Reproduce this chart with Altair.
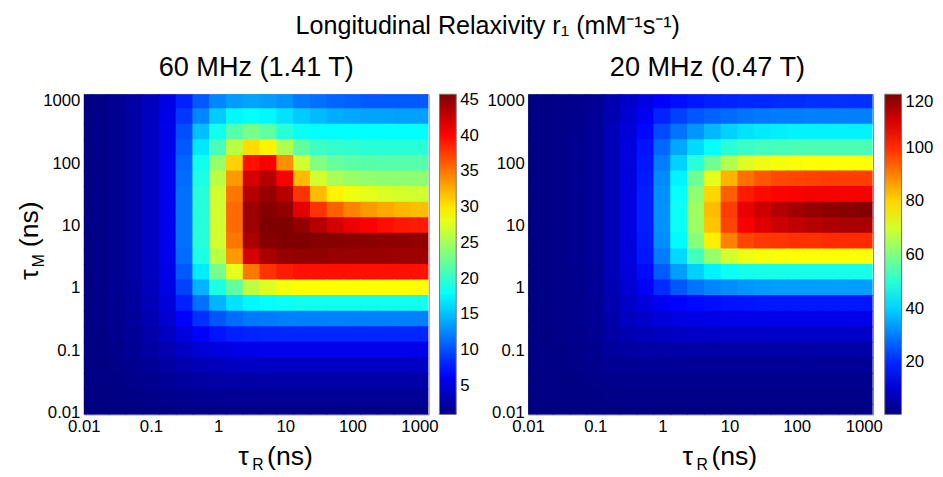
import altair as alt
import pandas as pd

FONT = "Liberation Sans"

# log10 grid centres (tau in ns)
LOG_TAU_R = [-2.0, -1.75, -1.5, -1.25, -1.0, -0.75, -0.5, -0.25, 0.0, 0.25, 0.5,
             0.75, 1.0, 1.25, 1.5, 1.75, 2.0, 2.25, 2.5, 2.75, 3.0]
LOG_TAU_M = [3.0, 2.75, 2.5, 2.25, 2.0, 1.75, 1.5, 1.25, 1.0, 0.75, 0.5,
             0.25, 0.0, -0.25, -0.5, -0.75, -1.0, -1.25, -1.5, -1.75, -2.0]

# r1 (rows = tau_M from top, cols = tau_R)
R1_60MHZ = [
    [1.2, 1.4, 1.8, 2.6, 3.7, 5.4, 8.0, 10.5, 12.5, 13.5, 13.8, 13.5, 13.0, 12.0, 11.5, 11.0, 10.8, 10.5, 10.5, 10.5, 10.5],
    [1.2, 1.4, 1.8, 2.6, 3.8, 5.6, 9.0, 12.5, 15.5, 17.5, 18.0, 17.5, 16.5, 15.5, 14.8, 14.2, 14.0, 13.8, 13.8, 13.6, 13.6],
    [1.2, 1.4, 1.8, 2.6, 3.8, 5.7, 10.0, 15.0, 18.5, 21.5, 23.0, 22.0, 19.5, 18.2, 17.8, 17.8, 17.8, 17.8, 17.8, 17.8, 17.8],
    [1.2, 1.4, 1.8, 2.6, 3.8, 5.7, 10.5, 16.8, 21.0, 26.0, 30.5, 29.5, 25.5, 22.0, 20.5, 20.0, 19.8, 19.6, 19.5, 19.5, 19.5],
    [1.2, 1.4, 1.8, 2.6, 3.8, 5.8, 11.0, 18.5, 24.5, 31.0, 39.5, 40.5, 34.0, 27.0, 23.5, 22.3, 21.8, 21.6, 21.5, 21.5, 21.5],
    [1.2, 1.4, 1.8, 2.6, 3.8, 5.8, 11.3, 19.0, 26.0, 33.5, 42.0, 43.5, 40.5, 32.0, 27.0, 25.2, 24.5, 24.2, 24.0, 24.0, 24.0],
    [1.2, 1.4, 1.8, 2.6, 3.8, 5.8, 11.5, 19.5, 27.0, 35.0, 43.5, 44.8, 43.5, 38.0, 32.0, 29.5, 28.3, 27.8, 27.4, 27.2, 27.0],
    [1.2, 1.4, 1.8, 2.6, 3.8, 5.8, 11.5, 19.5, 27.0, 35.5, 44.5, 45.5, 45.0, 41.5, 38.0, 36.0, 34.5, 33.5, 32.8, 32.2, 31.8],
    [1.2, 1.4, 1.8, 2.6, 3.8, 5.8, 11.5, 19.5, 27.0, 35.5, 44.5, 45.8, 45.8, 45.0, 43.5, 42.0, 41.0, 40.2, 39.6, 39.2, 39.0],
    [1.2, 1.4, 1.8, 2.6, 3.8, 5.8, 11.5, 19.5, 27.0, 35.0, 44.0, 45.5, 45.8, 45.8, 45.6, 45.5, 45.4, 45.3, 45.2, 45.1, 45.0],
    [1.2, 1.4, 1.8, 2.6, 3.8, 5.8, 11.3, 19.0, 26.0, 33.5, 42.0, 44.0, 44.8, 45.0, 45.0, 44.8, 44.7, 44.6, 44.6, 44.5, 44.5],
    [1.2, 1.4, 1.8, 2.6, 3.8, 5.6, 10.5, 17.0, 23.0, 28.0, 35.0, 38.0, 39.0, 39.5, 39.5, 39.5, 39.5, 39.5, 39.5, 39.5, 39.5],
    [1.2, 1.4, 1.8, 2.5, 3.7, 5.4, 9.5, 14.5, 19.0, 22.0, 26.0, 27.5, 28.5, 29.0, 29.0, 29.0, 29.0, 29.0, 29.0, 29.0, 29.0],
    [1.2, 1.4, 1.7, 2.4, 3.5, 5.0, 8.0, 11.5, 14.5, 16.5, 17.5, 18.0, 18.3, 18.5, 18.5, 18.5, 18.5, 18.5, 18.5, 18.5, 18.5],
    [1.2, 1.4, 1.7, 2.3, 3.2, 4.5, 6.5, 8.7, 10.3, 11.3, 11.8, 12.0, 12.2, 12.2, 12.2, 12.2, 12.2, 12.2, 12.2, 12.2, 12.2],
    [1.2, 1.3, 1.6, 2.1, 2.9, 3.9, 5.2, 6.5, 7.4, 7.9, 8.1, 8.2, 8.2, 8.2, 8.2, 8.2, 8.2, 8.2, 8.2, 8.2, 8.2],
    [1.2, 1.3, 1.5, 1.9, 2.5, 3.2, 4.0, 4.7, 5.2, 5.5, 5.6, 5.7, 5.7, 5.7, 5.7, 5.7, 5.7, 5.7, 5.7, 5.7, 5.7],
    [1.1, 1.2, 1.4, 1.7, 2.1, 2.5, 3.0, 3.4, 3.6, 3.8, 3.9, 3.9, 3.9, 3.9, 3.9, 3.9, 3.9, 3.9, 3.9, 3.9, 3.9],
    [1.1, 1.2, 1.3, 1.5, 1.7, 2.0, 2.3, 2.5, 2.6, 2.7, 2.7, 2.8, 2.8, 2.8, 2.8, 2.8, 2.8, 2.8, 2.8, 2.8, 2.8],
    [1.1, 1.1, 1.2, 1.3, 1.5, 1.6, 1.7, 1.8, 1.9, 1.9, 2.0, 2.0, 2.0, 2.0, 2.0, 2.0, 2.0, 2.0, 2.0, 2.0, 2.0],
    [1.0, 1.1, 1.1, 1.2, 1.3, 1.3, 1.4, 1.4, 1.4, 1.5, 1.5, 1.5, 1.5, 1.5, 1.5, 1.5, 1.5, 1.5, 1.5, 1.5, 1.5],
]

# r1
R1_20MHZ = [
    [1.0, 1.2, 1.5, 2.2, 3.0, 6.0, 9.0, 12.0, 15.0, 17.0, 18.0, 19.0, 19.5, 20.0, 20.0, 20.5, 20.5, 21.0, 21.0, 21.0, 21.0],
    [1.0, 1.2, 1.5, 2.3, 3.2, 6.5, 10.0, 14.0, 19.5, 23.0, 25.5, 27.0, 28.0, 29.0, 29.5, 30.0, 30.0, 30.4, 30.4, 30.4, 30.4],
    [1.0, 1.2, 1.6, 2.3, 3.3, 6.8, 11.0, 16.0, 24.0, 29.0, 33.0, 37.0, 40.0, 42.0, 43.0, 43.5, 44.0, 44.0, 44.0, 44.0, 44.0],
    [1.0, 1.2, 1.6, 2.4, 3.3, 7.0, 11.5, 17.5, 27.5, 35.0, 41.0, 46.0, 50.0, 52.0, 53.0, 53.5, 54.0, 54.0, 54.0, 54.0, 54.0],
    [1.0, 1.2, 1.6, 2.4, 3.3, 7.0, 11.7, 18.0, 30.0, 40.0, 50.0, 58.0, 66.0, 71.0, 73.0, 74.0, 74.5, 75.0, 75.0, 75.0, 75.0],
    [1.0, 1.2, 1.6, 2.4, 3.3, 7.0, 11.7, 18.5, 31.5, 44.0, 58.0, 72.0, 84.0, 92.0, 95.0, 96.5, 97.0, 97.5, 98.0, 98.0, 98.0],
    [1.0, 1.2, 1.6, 2.4, 3.3, 7.0, 11.7, 18.7, 32.3, 46.0, 62.0, 80.0, 94.0, 102.0, 104.0, 105.0, 105.5, 106.0, 106.0, 106.0, 106.0],
    [1.0, 1.2, 1.6, 2.4, 3.3, 7.0, 11.7, 18.7, 32.5, 46.6, 64.0, 83.0, 98.0, 107.5, 111.0, 114.0, 116.0, 117.5, 118.5, 119.0, 119.5],
    [1.0, 1.2, 1.6, 2.4, 3.3, 7.0, 11.7, 18.7, 32.5, 46.5, 63.5, 82.0, 97.0, 106.0, 109.0, 111.0, 112.5, 113.5, 114.5, 115.0, 115.0],
    [1.0, 1.2, 1.6, 2.4, 3.3, 7.0, 11.7, 18.5, 32.0, 45.0, 61.0, 77.0, 90.0, 97.0, 98.5, 99.0, 99.5, 99.5, 100.0, 100.0, 100.0],
    [1.0, 1.2, 1.6, 2.4, 3.3, 7.0, 11.5, 18.0, 30.0, 41.0, 53.0, 63.0, 70.0, 73.0, 74.0, 74.5, 75.0, 75.0, 75.0, 75.0, 75.0],
    [1.0, 1.2, 1.6, 2.3, 3.2, 6.8, 11.0, 16.5, 26.0, 34.0, 40.0, 44.0, 46.5, 47.5, 48.0, 48.0, 48.0, 48.0, 48.0, 48.0, 48.0],
    [1.0, 1.2, 1.5, 2.3, 3.1, 6.5, 10.3, 14.5, 20.5, 25.5, 29.0, 31.0, 32.0, 33.0, 33.5, 34.0, 34.0, 34.0, 34.0, 34.0, 34.0],
    [1.0, 1.2, 1.5, 2.2, 3.0, 6.0, 9.0, 11.5, 14.0, 15.5, 16.5, 17.0, 17.5, 17.8, 18.0, 18.0, 18.0, 18.0, 18.0, 18.0, 18.0],
    [1.0, 1.2, 1.5, 2.1, 2.9, 5.5, 8.0, 9.5, 11.0, 11.8, 12.3, 12.6, 12.8, 12.9, 13.0, 13.0, 13.0, 13.0, 13.0, 13.0, 13.0],
    [1.0, 1.1, 1.4, 2.0, 2.7, 4.8, 6.5, 7.4, 8.1, 8.5, 8.7, 8.9, 9.0, 9.0, 9.0, 9.0, 9.0, 9.0, 9.0, 9.0, 9.0],
    [1.0, 1.1, 1.3, 1.8, 2.4, 3.8, 4.4, 4.7, 4.9, 5.0, 5.0, 5.0, 5.0, 5.0, 5.0, 5.0, 5.0, 5.0, 5.0, 5.0, 5.0],
    [1.0, 1.1, 1.2, 1.6, 2.0, 2.6, 2.9, 3.0, 3.1, 3.2, 3.2, 3.2, 3.2, 3.2, 3.2, 3.2, 3.2, 3.2, 3.2, 3.2, 3.2],
    [1.0, 1.0, 1.1, 1.3, 1.6, 1.9, 2.0, 2.1, 2.2, 2.2, 2.2, 2.2, 2.2, 2.2, 2.2, 2.2, 2.2, 2.2, 2.2, 2.2, 2.2],
    [1.0, 1.0, 1.0, 1.1, 1.3, 1.4, 1.5, 1.5, 1.6, 1.6, 1.6, 1.6, 1.6, 1.6, 1.6, 1.6, 1.6, 1.6, 1.6, 1.6, 1.6],
    [0.9, 0.9, 1.0, 1.0, 1.1, 1.1, 1.2, 1.2, 1.2, 1.2, 1.2, 1.2, 1.2, 1.2, 1.2, 1.2, 1.2, 1.2, 1.2, 1.2, 1.2],
]

AXIS_TICKS = [0.01, 0.1, 1, 10, 100, 1000]
X_DOMAIN = [0.01, 1370]
Y_DOMAIN = [0.0093, 1276]
CB60_TICKS = [5, 10, 15, 20, 25, 30, 35, 40, 45]
CB20_TICKS = [20, 40, 60, 80, 100, 120]
CB60_RANGE = [1.0, 45.8]
CB20_RANGE = [0.5, 120.0]
JET = ["#000080", "#0000ff", "#0080ff", "#00ffff", "#80ff80",
       "#ffff00", "#ff8000", "#ff0000", "#800000"]

W, H = 350, 325


def grid(matrix):
    half = (LOG_TAU_R[1] - LOG_TAU_R[0]) / 2
    seam = half * 0.06  # small overlap so neighbouring cells leave no hairline gap
    rows = []
    for i, lm in enumerate(LOG_TAU_M):
        for j, lr in enumerate(LOG_TAU_R):
            rows.append({
                "r0": 10 ** (lr - half - seam), "r1": 10 ** (lr + half + seam),
                "m0": 10 ** (lm - half - seam), "m1": 10 ** (lm + half + seam),
                "v": matrix[i][j],
            })
    return pd.DataFrame(rows)


ONE = pd.DataFrame({"k": [0]})


def label(text, x, y, size, angle=0, align="center"):
    kw = dict(text=text, fontSize=size, font=FONT, color="black",
              align=align, baseline="alphabetic")
    if angle:
        kw["angle"] = angle
    return alt.Chart(ONE).mark_text(**kw).encode(x=alt.value(x), y=alt.value(y))


def panel(matrix, vrange, cticks, cb_offset):
    df = grid(matrix)
    lo, hi = vrange
    stops = [lo + k * (hi - lo) / 8 for k in range(9)]
    axis_kw = dict(values=AXIS_TICKS, format="~g", title=None, ticks=False,
                   domain=False, grid=False, labelFontSize=17, labelPadding=4,
                   labelColor="black", labelFont=FONT, labelFlush=False)
    heat = alt.Chart(df).mark_rect(clip=True).encode(
        x=alt.X("r0:Q", scale=alt.Scale(type="log", domain=X_DOMAIN, nice=False),
                axis=alt.Axis(**axis_kw)),
        x2="r1:Q",
        y=alt.Y("m0:Q", scale=alt.Scale(type="log", domain=Y_DOMAIN, nice=False),
                axis=alt.Axis(**axis_kw)),
        y2="m1:Q",
        color=alt.Color("v:Q",
                        scale=alt.Scale(domain=stops, range=JET, interpolate="rgb"),
                        legend=alt.Legend(title=None, type="gradient", orient="right",
                                          offset=cb_offset, direction="vertical",
                                          gradientLength=H, gradientThickness=17,
                                          values=cticks, labelFontSize=17,
                                          labelFont=FONT, labelColor="black",
                                          labelOffset=4, gradientStrokeColor="#777",
                                          gradientStrokeWidth=1, padding=0,
                                          labelOverlap=False)),
    )
    return heat


def x_title(sub):
    return [label("τ", 162, 376, 27),
            label(sub, 171, 381, 16, align="left"),
            label("(ns)", 186, 376, 27, align="left")]


left = alt.layer(
    panel(R1_60MHZ, CB60_RANGE, CB60_TICKS, 11),
    *x_title("R"),
    label("τ", -47, 277 - 94, 27, angle=270),
    label("M", -40, 263 - 94, 16, angle=270),
    label("(ns)", -47, 226 - 94, 27, angle=270),
    label("60 MHz (1.41 T)", 175, -19, 27.5),
    label("Longitudinal Relaxivity r₁ (mM⁻¹s⁻¹)", 410, -61, 25.5),
).properties(width=W, height=H)

right = alt.layer(
    panel(R1_20MHZ, CB20_RANGE, CB20_TICKS, 12),
    *x_title("R"),
    label("20 MHz (0.47 T)", 182, -19, 27.5),
).properties(width=W, height=H)

chart = alt.hconcat(left, right, spacing=101, bounds="flush").resolve_scale(
    color="independent"
).configure_view(stroke="#808080", strokeWidth=1).properties(
    padding={"left": 7, "top": 2, "right": 0, "bottom": 0}
)

chart.save("out.html", embed_options={"renderer": "svg", "actions": False})
